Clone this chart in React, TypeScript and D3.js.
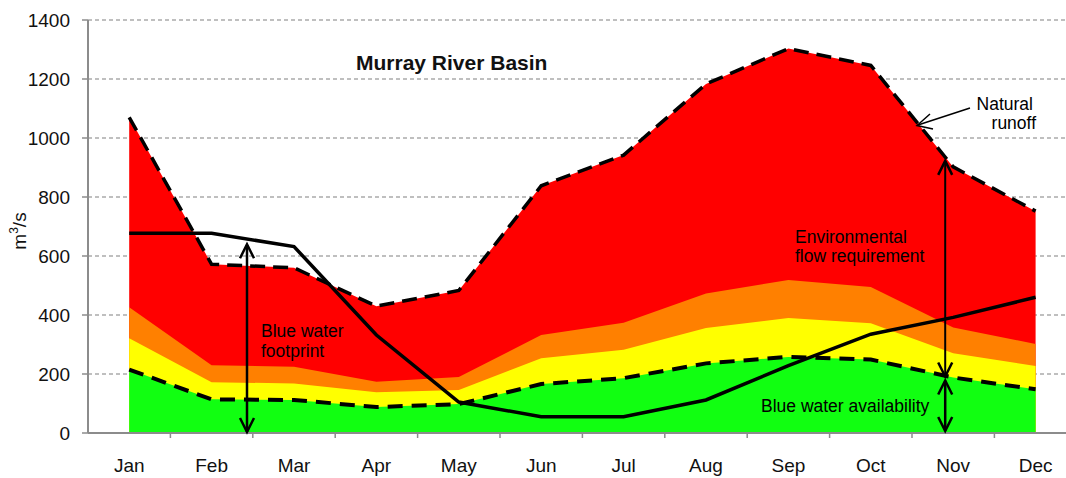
import * as d3 from 'd3';
import React from 'react';

const months = ['Jan', 'Feb', 'Mar', 'Apr', 'May', 'Jun', 'Jul', 'Aug', 'Sep', 'Oct', 'Nov', 'Dec'];
const naturalRunoff = [1070, 572, 560, 430, 483, 838, 942, 1183, 1303, 1246, 902, 752];
const orangeTop = [426, 230, 225, 174, 190, 332, 374, 473, 519, 495, 358, 302];
const yellowTop = [321, 172, 168, 138, 146, 253, 282, 356, 390, 372, 270, 227];
const availability = [215, 114, 112, 88, 98, 166, 186, 236, 258, 249, 188, 148];
const footprint = [677, 677, 632, 332, 105, 55, 55, 112, 228, 335, 392, 460];
const yTicks = [0, 200, 400, 600, 800, 1000, 1200, 1400];

const font = '"Liberation Sans", Arial, sans-serif';

function App() {
    const left = 88, top = 20, bottom = 433;
    const step = 82.4;
    const x = d3.scaleBand().domain(months).range([left, left + step * 12]);
    const cx = (m: string) => x(m)! + x.bandwidth() / 2;
    const y = d3.scaleLinear().domain([0, 1400]).range([bottom, top]);

    const area = (vals: number[]) =>
        d3.area<number>().x((d, i) => cx(months[i])).y0(y(0)).y1(d => y(d))(vals) || '';
    const line = (vals: number[]) =>
        d3.line<number>().x((d, i) => cx(months[i])).y(d => y(d))(vals) || '';

    const arrowHead = (px: number, py: number, dir: number) => (
        <path d={`M${px - 7},${py - dir * 14}L${px},${py}L${px + 7},${py - dir * 14}`}
            fill="none" stroke="#000" strokeWidth={2.5} />
    );

    const fpX = 247;
    const envX = cx('Nov') - 8;
    const annSize = 17.5;

    return (
        <svg width={1066} height={478} style={{ position: 'absolute', left: 0, top: 0 }}
            fontFamily={font}>
            <rect width={1066} height={478} fill="#fff" />
            {/* gridlines */}
            {yTicks.filter(t => t > 0).map(t => (
                <line key={t} x1={left} x2={1066} y1={y(t)} y2={y(t)}
                    stroke="#808080" strokeWidth={1.2} strokeDasharray="4,3" />
            ))}
            {/* stacked areas */}
            <path d={area(naturalRunoff)} fill="#ff0000" />
            <path d={area(orangeTop)} fill="#ff8000" />
            <path d={area(yellowTop)} fill="#ffff00" />
            <path d={area(availability)} fill="#11ff11" />
            {/* lines */}
            <path d={line(naturalRunoff)} fill="none" stroke="#000" strokeWidth={3.5} strokeDasharray="15,8" />
            <path d={line(availability)} fill="none" stroke="#000" strokeWidth={4} strokeDasharray="15,9" />
            <path d={line(footprint)} fill="none" stroke="#000" strokeWidth={3.5} />
            {/* axes */}
            <line x1={left} x2={left} y1={top} y2={bottom} stroke="#8c8c8c" strokeWidth={2} />
            <line x1={left} x2={1066} y1={bottom} y2={bottom} stroke="#8c8c8c" strokeWidth={2} />
            {yTicks.map(t => (
                <g key={t}>
                    <line x1={left - 6} x2={left} y1={y(t)} y2={y(t)} stroke="#8c8c8c" strokeWidth={1.5} />
                    <text x={70} y={y(t) + 7} textAnchor="end" fontSize={19} fill="#111">{t}</text>
                </g>
            ))}
            {months.map(m => (
                <g key={m}>
                    <line x1={x(m)! + x.bandwidth()} x2={x(m)! + x.bandwidth()} y1={bottom} y2={bottom + 5}
                        stroke="#8c8c8c" strokeWidth={1.5} />
                    <text x={cx(m)} y={472} textAnchor="middle" fontSize={19} fill="#111">{m}</text>
                </g>
            ))}
            <text transform={`translate(26,231) rotate(-90)`} textAnchor="middle" fontSize={19} fill="#111">
                m<tspan dy={-8} fontSize={12}>3</tspan><tspan dy={8}>/s</tspan>
            </text>
            {/* title */}
            <text x={356} y={70} fontSize={21} fontWeight="bold" fill="#111">Murray River Basin</text>
            {/* blue water footprint arrow */}
            <line x1={fpX} x2={fpX} y1={y(footprint[1]) + 12} y2={bottom - 1} stroke="#000" strokeWidth={2.5} />
            {arrowHead(fpX, y(footprint[1]) + 11, -1)}
            {arrowHead(fpX, bottom - 1, 1)}
            <text x={261} y={337} fontSize={annSize} fill="#000">Blue water</text>
            <text x={261} y={357} fontSize={annSize} fill="#000">footprint</text>
            {/* environmental flow requirement */}
            <line x1={envX} x2={envX} y1={y(naturalRunoff[10]) - 6} y2={y(availability[10]) - 1} stroke="#000" strokeWidth={2} />
            {arrowHead(envX, y(naturalRunoff[10]) - 6, -1)}
            {arrowHead(envX, y(availability[10]) - 1, 1)}
            <text x={795} y={243} fontSize={annSize} fill="#000">Environmental</text>
            <text x={795} y={262} fontSize={annSize} fill="#000">flow requirement</text>
            {/* blue water availability */}
            <line x1={envX} x2={envX} y1={y(availability[10]) + 3} y2={bottom - 2} stroke="#000" strokeWidth={2.5} />
            {arrowHead(envX, y(availability[10]) + 3, -1)}
            {arrowHead(envX, bottom - 2, 1)}
            <text x={761} y={412} fontSize={annSize} fill="#000">Blue water availability</text>
            {/* natural runoff label */}
            <line x1={970} x2={918} y1={108} y2={125} stroke="#000" strokeWidth={1.5} />
            <path d="M930,114L917,125.5L933,129" fill="none" stroke="#000" strokeWidth={1.5} />
            <text x={1033} y={110} textAnchor="end" fontSize={annSize} fill="#000">Natural</text>
            <text x={1036} y={129} textAnchor="end" fontSize={annSize} fill="#000">runoff</text>
        </svg>
    );
}

export default App;
